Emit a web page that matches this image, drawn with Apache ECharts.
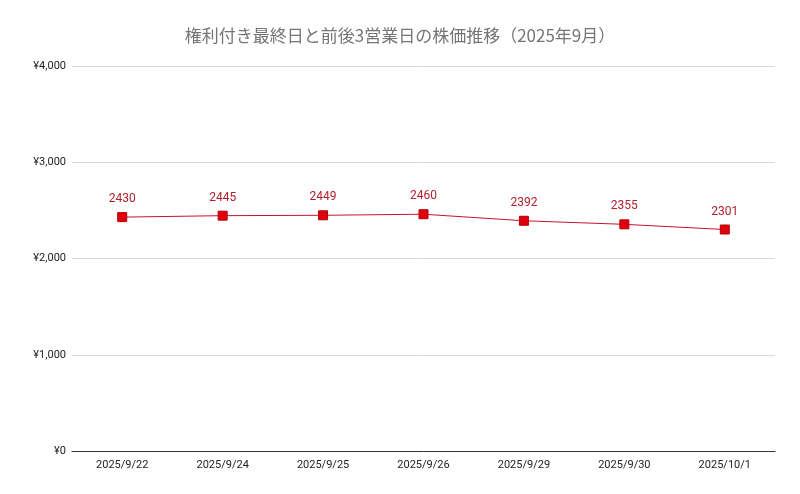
<!DOCTYPE html>
<html>
<head>
    <meta charset="utf-8">
    <title>株価推移</title>
    <script src="https://cdn.jsdelivr.net/npm/echarts@6/dist/echarts.min.js"></script>
    <style>
        html, body { margin: 0; padding: 0; background: #fff; }
        #main { width: 800px; height: 494px; }
    </style>
</head>
<body>
    <div id="main"></div>
    <script type="text/javascript">
        var dates = ['2025/9/22', '2025/9/24', '2025/9/25', '2025/9/26', '2025/9/29', '2025/9/30', '2025/10/1'];
        var prices = [2430, 2445, 2449, 2460, 2392, 2355, 2301];
        var yTicks = [0, 1000, 2000, 3000, 4000];

        var myChart = echarts.init(document.getElementById('main'));

        var option = {
            animation: false,
            textStyle: { fontFamily: 'Roboto, "Noto Sans CJK JP", sans-serif' },
            title: {
                text: '権利付き最終日と前後3営業日の株価推移（2025年9月）',
                left: 'center',
                top: 22,
                textStyle: {
                    color: '#757575',
                    fontSize: 17,
                    fontWeight: 'normal',
                    fontFamily: '"Noto Sans CJK JP", sans-serif'
                }
            },
            grid: {
                left: 72,
                right: 25,
                top: 66,
                bottom: 43
            },
            xAxis: {
                type: 'category',
                data: dates,
                boundaryGap: true,
                axisLine: { lineStyle: { color: '#333', width: 1 } },
                axisTick: { show: false },
                axisLabel: { color: '#222', fontSize: 11, margin: 9 }
            },
            yAxis: {
                type: 'value',
                min: yTicks[0],
                max: yTicks[yTicks.length - 1],
                interval: 1000,
                axisLine: { show: false },
                axisTick: { show: false },
                splitLine: { lineStyle: { color: '#d9d9d9' } },
                axisLabel: {
                    color: '#222',
                    fontSize: 11,
                    margin: 6,
                    formatter: function (v) {
                        return '¥' + v.toLocaleString('en-US');
                    }
                }
            },
            series: [
                {
                    name: '株価',
                    type: 'line',
                    data: prices,
                    symbol: 'rect',
                    symbolSize: 9,
                    itemStyle: { color: '#e0000b', borderColor: '#b3000a', borderWidth: 1 },
                    lineStyle: { color: '#c8102e', width: 1 },
                    label: {
                        show: true,
                        position: 'top',
                        distance: 7,
                        color: '#b0222e',
                        fontSize: 12
                    }
                }
            ]
        };
        myChart.setOption(option);
    </script>
</body>
</html>
